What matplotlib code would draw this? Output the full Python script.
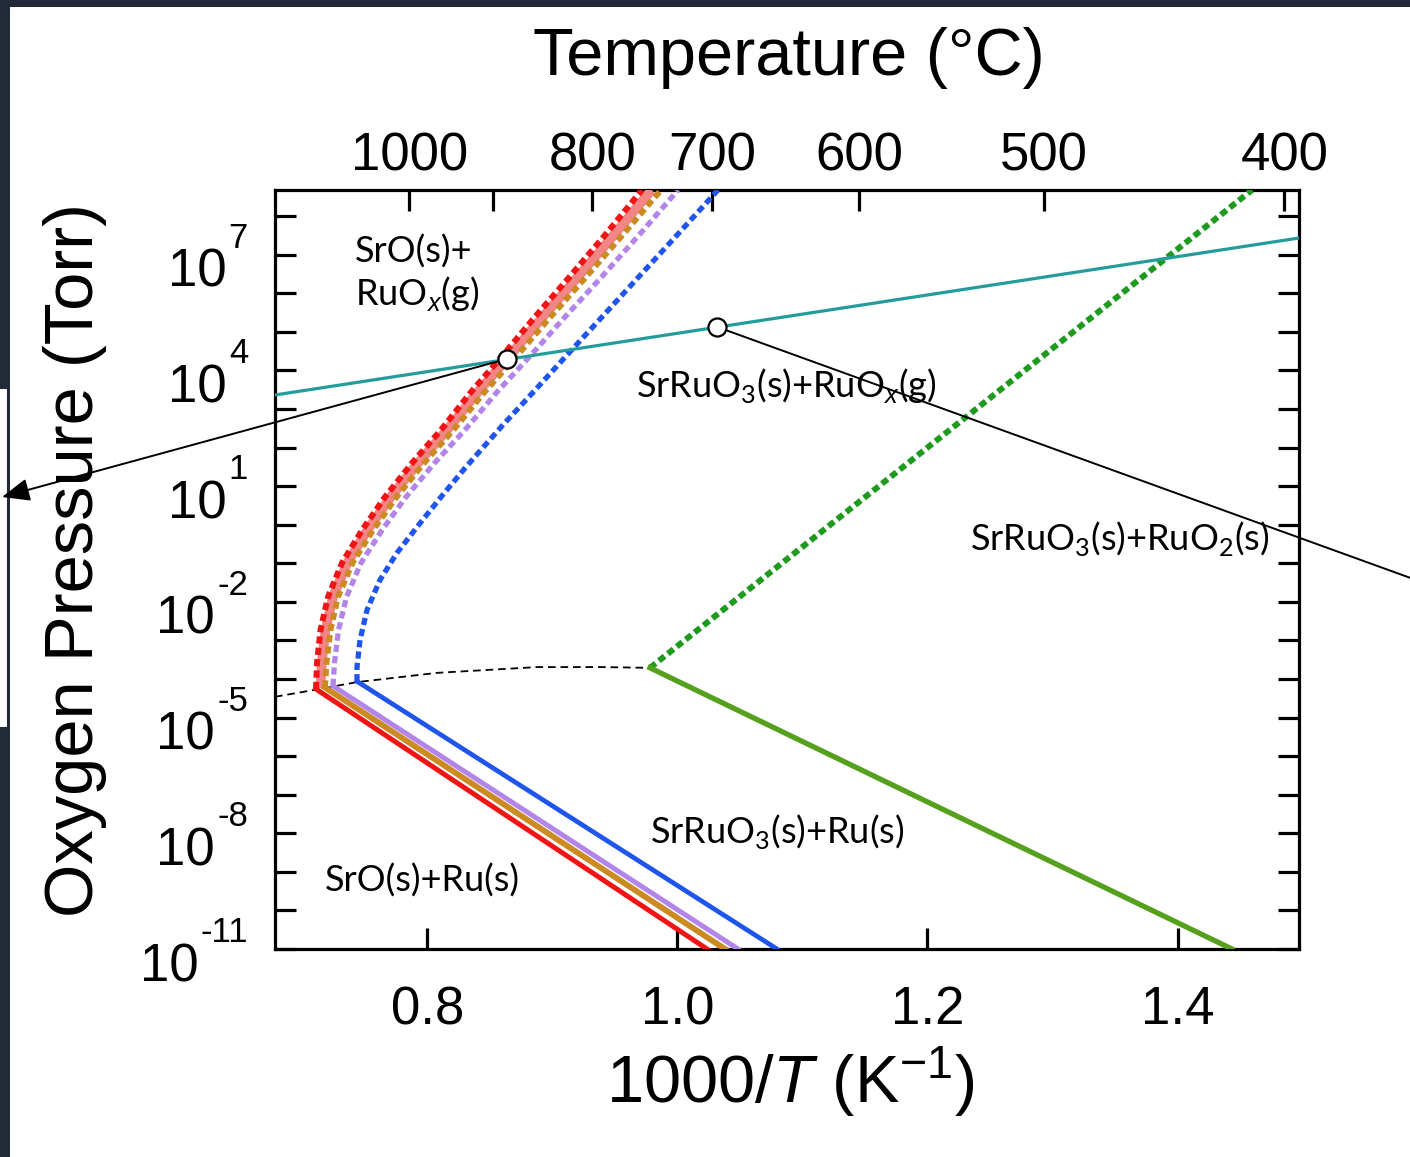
import numpy as np
import matplotlib.pyplot as plt
import matplotlib.transforms as mtransforms
from matplotlib.patches import Rectangle

plt.rcParams['font.family'] = 'Liberation Sans'
plt.rcParams['mathtext.fontset'] = 'custom'
plt.rcParams['mathtext.rm'] = 'Liberation Sans'
plt.rcParams['mathtext.it'] = 'Liberation Sans:italic'
plt.rcParams['mathtext.bf'] = 'Liberation Sans:bold'
plt.rcParams['lines.scale_dashes'] = False

# x = 1000/T (K^-1), y = log10(P / Torr)
# SrO + RuOx(g) / SrRuO3 boundaries (dashed, upper branch)
up_logp = [-3.58, -2.73, -1.87, -0.99, -0.14, 0.72, 1.60, 2.46,
           3.44, 4.40, 5.36, 6.35, 7.51, 8.68]
red_up_x = [0.7108, 0.7116, 0.7144, 0.7204, 0.7316, 0.7476, 0.766, 0.7876, 0.8108,
            0.8348, 0.8604, 0.8852, 0.9116, 0.942, 0.9716]
red_up_logp = [-4.26] + up_logp
pink_up_x = [0.7144, 0.7154, 0.7184, 0.7244, 0.7358, 0.752, 0.7706, 0.7924, 0.8158,
             0.8402, 0.8662, 0.8914, 0.9182, 0.949, 0.9792]
pink_up_logp = [-4.24] + up_logp
orange_up_x = [0.718, 0.7192, 0.7224, 0.7284, 0.740, 0.7564, 0.7752, 0.7972, 0.8208,
               0.8456, 0.872, 0.8976, 0.9248, 0.956, 0.9868]
orange_up_logp = [-4.22] + up_logp
purple_up_x = [0.7244, 0.7256, 0.7288, 0.7352, 0.7468, 0.7636, 0.7828, 0.8056, 0.830,
               0.8556, 0.8828, 0.9092, 0.9372, 0.9692, 1.0004]
purple_up_logp = [-4.18] + up_logp
blue_up_x = [0.7436, 0.7436, 0.746, 0.7516, 0.762, 0.7756, 0.7916, 0.8108, 0.8308,
             0.8604, 0.8846, 0.9116, 0.9388, 0.9668, 0.9996, 1.0324]
blue_up_logp = [-4.06, -3.69, -2.99, -2.21, -1.43, -0.73, -0.06, 0.72, 1.50,
                2.59, 3.44, 4.40, 5.36, 6.35, 7.51, 8.68]

# SrO + Ru / SrRuO3 boundaries (solid, lower branch)
red_low_x, red_low_logp = [0.7108, 1.0236], [-4.26, -11.0]
orange_low_x, orange_low_logp = [0.718, 1.038], [-4.22, -11.0]
purple_low_x, purple_low_logp = [0.7244, 1.0484], [-4.18, -11.0]
blue_low_x, blue_low_logp = [0.7436, 1.0796], [-4.06, -11.0]

# RuO2 / RuOx(g) and RuO2 / Ru lines from the triple point
green_up_x, green_up_logp = [0.978, 1.4596], [-3.71, 8.68]
green_low_x, green_low_logp = [0.978, 1.4436], [-3.71, -11.0]

# Ru / RuOx(g) equilibrium
ru_x = [0.678, 0.710, 0.7436, 0.8076, 0.8876, 0.9404, 0.978]
ru_logp = [-4.46, -4.28, -4.08, -3.84, -3.69, -3.69, -3.71]

# RuOx(g) partial pressure line
teal_x, teal_logp = [0.678, 1.4972], [3.365, 7.435]

# growth points
pts_x, pts_logp = [0.8636, 1.0316], [4.30, 5.13]

temp_ticks = [1000, 900, 800, 700, 600, 500, 400]
temp_labels = ['1000', '', '800', '700', '600', '500', '400']
x_ticks = [0.8, 1.0, 1.2, 1.4]
y_exps = list(range(-11, 9))
y_label_exps = [7, 4, 1, -2, -5, -8, -11]


def P(v):
    return 10.0 ** np.asarray(v)


W, H = 1410, 1157
fig = plt.figure(figsize=(W / 100, H / 100), dpi=100)
fig.patch.set_facecolor('white')

dark = '#232a37'
fig.add_artist(Rectangle((0, 1 - 7 / H), 1, 7 / H, transform=fig.transFigure,
                         facecolor=dark, edgecolor='none', zorder=-5))
fig.add_artist(Rectangle((0, 0), 10 / W, 1, transform=fig.transFigure,
                         facecolor=dark, edgecolor='none', zorder=-5))
fig.add_artist(Rectangle((-10 / W, 1 - 728 / H), 18 / W, 340 / H, transform=fig.transFigure,
                         facecolor='white', edgecolor=dark, lw=1.5, zorder=-4))

ax = fig.add_axes([275 / W, 1 - 949 / H, 1024 / W, 759 / H])
ax.set_yscale('log')
ax.set_xlim(0.678, 1.4972)
ax.set_ylim(1e-11, 10 ** 8.68)

dash = (5.2, 3.0)
ax.plot(ru_x, P(ru_logp), color='black', lw=1.3, dashes=(5.5, 3.5), zorder=2)

ax.plot(green_up_x, P(green_up_logp), color='#1e9a1e', lw=4.3, dashes=dash, zorder=3)
ax.plot(green_low_x, P(green_low_logp), color='#55a01c', lw=3.8, zorder=3)

ax.plot(pink_up_x, P(pink_up_logp), color='#f28585', lw=7, zorder=3, solid_capstyle='butt')
ax.plot(blue_up_x, P(blue_up_logp), color='#1f55ea', lw=3.8, dashes=dash, zorder=4)
ax.plot(purple_up_x, P(purple_up_logp), color='#b485e8', lw=3.8, dashes=dash, zorder=4)
ax.plot(orange_up_x, P(orange_up_logp), color='#cc8a22', lw=4.2, dashes=dash, zorder=4)
ax.plot(red_up_x, P(red_up_logp), color='#f01414', lw=4.3, dashes=dash, zorder=5)

ax.plot(blue_low_x, P(blue_low_logp), color='#1f55ea', lw=3.4, zorder=4)
ax.plot(purple_low_x, P(purple_low_logp), color='#b485e8', lw=3.6, zorder=4)
ax.plot(orange_low_x, P(orange_low_logp), color='#cc8a22', lw=4.2, zorder=4)
ax.plot(red_low_x, P(red_low_logp), color='#f01414', lw=3.6, zorder=5)

ax.plot(teal_x, P(teal_logp), color='#239c9c', lw=2.3, zorder=6)

# pointer lines from the two marked points
ax.annotate('', xy=(2 / W, 1 - 497 / H), xycoords='figure fraction',
            xytext=(pts_x[0], P(pts_logp[0])), textcoords='data',
            arrowprops=dict(arrowstyle='-|>,head_length=0.85,head_width=0.35', color='black',
                            lw=1.4, shrinkA=0, shrinkB=0, mutation_scale=20),
            annotation_clip=False, zorder=7)
ax.annotate('', xy=(1.02, 1 - 588 / H), xycoords='figure fraction',
            xytext=(pts_x[1], P(pts_logp[1])), textcoords='data',
            arrowprops=dict(arrowstyle='-', color='black', lw=1.4, shrinkA=0, shrinkB=0),
            annotation_clip=False, zorder=7)
ax.plot(pts_x, P(pts_logp), 'o', ms=13, mfc='white', mec='black', mew=1.6,
        zorder=8, clip_on=False)

# axes frame and ticks
for s in ax.spines.values():
    s.set_linewidth(2.3)
ax.set_xticks(x_ticks)
ax.set_xticklabels(['%.1f' % v for v in x_ticks])
ax.set_yticks([10.0 ** k for k in y_exps])
ax.set_yticklabels([])
ax.minorticks_off()
ax.tick_params(axis='both', which='major', direction='in', length=15, width=2.3,
               labelsize=38, right=True)
ax.tick_params(axis='x', pad=26)

# decade labels: "10" with a raised exponent, right-aligned against the axis
ytr = ax.get_yaxis_transform()
for k in y_label_exps:
    etr = mtransforms.offset_copy(ytr, fig=fig, x=0, y=7, units='dots')
    e = ax.text(-27 / 1024, 10.0 ** k, '%d' % k, transform=etr, fontsize=25,
                ha='right', va='baseline')
    ax.annotate('10', xy=(0, 10.0 ** k), xycoords=(e, 'data'),
                xytext=(-2, -32), textcoords='offset pixels', fontsize=38,
                ha='right', va='baseline', annotation_clip=False)

top = ax.secondary_xaxis('top', functions=(lambda x: 1000.0 / np.asarray(x) - 273.15,
                                           lambda c: 1000.0 / (np.asarray(c) + 273.15)))
top.set_xticks(temp_ticks)
top.set_xticklabels(temp_labels)
top.minorticks_off()
top.tick_params(direction='in', length=15, width=2.3, labelsize=38, pad=6)

# region labels
lab = dict(family='Lato', fontsize=26, color='black', va='baseline', ha='left', zorder=9)
ax.text(0.742, P(6.81), 'SrO(s)+', **lab)
ax.text(0.742, P(5.70), r'RuO$_{\mathit{x}}$(g)', **lab)
ax.text(0.9668, P(3.31), r'SrRuO$_{\mathregular{3}}$(s)+RuO$_{\mathit{x}}$(g)', **lab)
ax.text(1.234, P(-0.65), r'SrRuO$_{\mathregular{3}}$(s)+RuO$_{\mathregular{2}}$(s)', **lab)
ax.text(0.978, P(-8.25), r'SrRuO$_{\mathregular{3}}$(s)+Ru(s)', **lab)
ax.text(0.718, P(-9.52), 'SrO(s)+Ru(s)', **lab)

# axis titles
fig.text(789 / W, 1 - 58 / H, 'Temperature (°C)', fontsize=48, ha='center', va='center')
fig.text(790 / W, 1 - 1082 / H, r'1000/$T$ (K$^{\mathregular{-1}}$)', fontsize=48,
         ha='center', va='center')
fig.text(75 / W, 1 - 560 / H, 'Oxygen Pressure (Torr)', fontsize=49.5, rotation=90,
         ha='center', va='center')

fig.savefig('out.png', dpi=100)
